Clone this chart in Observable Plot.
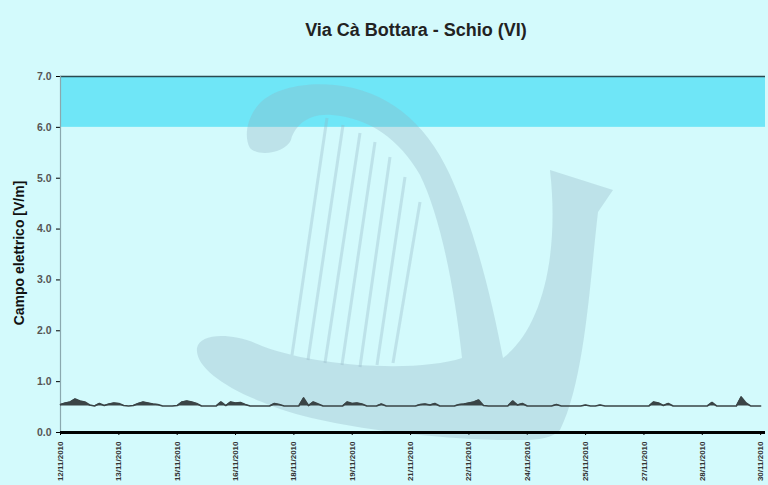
<!DOCTYPE html>
<html><head><meta charset="utf-8">
<script src="https://cdn.jsdelivr.net/npm/d3@7"></script>
<script src="https://cdn.jsdelivr.net/npm/@observablehq/plot@0.6"></script>
<style>
body{margin:0;background:#d3fafc;font-family:"Liberation Sans",Arial,sans-serif;}
#wrap{position:relative;width:768px;height:485px;overflow:hidden;}
#title{height:50px;line-height:60px;text-align:center;font-size:18px;font-weight:bold;color:#222;padding-left:64px;}
</style></head><body>
<div id="wrap"><div id="title">Via Cà Bottara - Schio (VI)</div><div id="chart"></div></div>
<script>
const title = "Via Cà Bottara - Schio (VI)";
const yLabel = "Campo elettrico [V/m]";
const startTime = "2010-11-12T00:00";
const stepHours = 3;
const values = [
0.55,0.58,0.60,0.66,0.62,0.60,0.54,0.52,0.57,0.53,
0.56,0.58,0.57,0.53,0.52,0.53,0.57,0.60,0.58,0.56,
0.55,0.52,0.52,0.52,0.53,0.60,0.62,0.60,0.57,0.52,
0.52,0.52,0.52,0.60,0.53,0.60,0.58,0.59,0.55,0.52,
0.52,0.52,0.52,0.52,0.57,0.55,0.52,0.52,0.52,0.52,
0.68,0.53,0.60,0.56,0.52,0.52,0.52,0.52,0.52,0.60,
0.57,0.58,0.56,0.52,0.52,0.52,0.56,0.52,0.52,0.52,
0.52,0.52,0.52,0.52,0.55,0.56,0.54,0.57,0.52,0.52,
0.52,0.52,0.55,0.56,0.58,0.60,0.64,0.53,0.52,0.52,
0.52,0.52,0.52,0.62,0.54,0.57,0.52,0.52,0.52,0.52,
0.52,0.52,0.55,0.52,0.52,0.52,0.52,0.52,0.54,0.52,
0.52,0.54,0.52,0.52,0.52,0.52,0.52,0.52,0.52,0.52,
0.52,0.52,0.60,0.58,0.53,0.57,0.52,0.52,0.52,0.52,
0.52,0.52,0.52,0.52,0.59,0.52,0.52,0.52,0.52,0.52,
0.70,0.58,0.52,0.52,0.52
];
const limitBand = [6, 7];
const yTicks = [0,1,2,3,4,5,6,7];
const xTickLabels = ["12/11/2010","13/11/2010","15/11/2010","16/11/2010","18/11/2010","19/11/2010","21/11/2010","22/11/2010","24/11/2010","25/11/2010","27/11/2010","28/11/2010","30/11/2010"];
const xDomain = ["2010-11-12T00:00","2010-11-30T03:00"];

const t0 = new Date(startTime);
const data = values.map((v,i)=>({t:new Date(+t0 + i*stepHours*3600e3), v}));
const xTicks = xTickLabels.map((s,i)=>new Date(+t0 + i*36*3600e3));

const chart = Plot.plot({
  width:768, height:435,
  marginTop:26, marginBottom:53, marginLeft:60, marginRight:3,
  style:{background:"transparent", fontFamily:"Liberation Sans, Arial, sans-serif"},
  x:{type:"time", domain:xDomain.map(d=>new Date(d)), ticks:xTicks, tickFormat:(d,i)=>xTickLabels[i], tickRotate:-90, tickSize:3, label:null},
  y:{domain:[0,7], ticks:yTicks, tickFormat:d3.format(".1f"), tickSize:4, label:null},
  marks:[
    Plot.rectY([limitBand], {x1:()=>new Date(xDomain[0]), x2:()=>new Date(xDomain[1]), y1:d=>d[0], y2:d=>d[1], fill:"#6fe6f7"}),
    Plot.ruleY([7], {stroke:"#2a4a50", strokeWidth:1.5}),
    Plot.ruleX([new Date(xDomain[0])], {stroke:"#8aa8ae", strokeWidth:1.2}),
    Plot.areaY(data, {x:"t", y1:0.52, y2:"v", fill:"#3a4446"}),
    Plot.lineY(data, {x:"t", y:"v", stroke:"#3a4446", strokeWidth:1.6}),
    Plot.ruleY([0], {stroke:"#000", strokeWidth:3})
  ]
});
chart.querySelectorAll('[aria-label="x-axis tick label"] text, [aria-label="y-axis tick label"] text').forEach(t=>{t.style.fontWeight="bold";});
const xl = chart.querySelector('[aria-label="x-axis tick label"]');
if (xl){ xl.setAttribute("font-size","8"); xl.setAttribute("fill","#333"); }
const yl = chart.querySelector('[aria-label="y-axis tick label"]');
if (yl){ yl.setAttribute("font-size","10.5"); yl.setAttribute("fill","#555"); }
const ns="http://www.w3.org/2000/svg";
// decorative watermark (logo), page coords shifted by the 50px title block
const wm=document.createElementNS(ns,"g");
wm.setAttribute("transform","translate(0,-50)");
wm.setAttribute("fill","rgb(144,177,192)");
wm.setAttribute("fill-opacity","0.32");
wm.setAttribute("stroke","rgb(144,177,192)");
wm.setAttribute("stroke-opacity","0.32");
const p=document.createElementNS(ns,"path");
p.setAttribute("stroke","none");
p.setAttribute("d","M250,148 C244,138 246,118 260,103 C275,88 305,82 335,85 C385,90 425,120 450,175 C475,230 492,300 503,358 C540,330 560,260 550,170 L613,190 L598,212 C590,280 585,380 560,430 C552,438 540,440 520,440 C470,441 330,432 262,402 C222,386 195,366 197,348 C200,333 232,332 262,346 C320,368 420,372 462,358 C455,290 440,215 420,175 C400,140 370,118 332,115 C306,113 294,128 291,140 C286,152 260,158 250,148 Z");
wm.appendChild(p);
const strings=[[327,118,292,355],[343,125,308,360],[360,133,325,363],[375,142,342,365],[390,157,360,367],[405,177,377,365],[420,202,393,363]];
strings.forEach(s=>{const l=document.createElementNS(ns,"line");l.setAttribute("x1",s[0]);l.setAttribute("y1",s[1]+50-50+0);l.setAttribute("x2",s[2]);l.setAttribute("y2",s[3]);l.setAttribute("stroke-width","3");l.setAttribute("fill","none");wm.appendChild(l);});
const groups=chart.querySelectorAll("g[aria-label]");
let after=null;groups.forEach(g=>{if(g.getAttribute("aria-label")==="rect")after=g;});
if(after) after.after(wm); else chart.appendChild(wm);
// y label
const lab=document.createElementNS(ns,"text");
lab.setAttribute("transform","translate(24,203) rotate(-90)");
lab.setAttribute("text-anchor","middle");
lab.setAttribute("font-size","14");
lab.setAttribute("font-weight","bold");
lab.setAttribute("fill","#111");
lab.textContent=yLabel;
chart.appendChild(lab);
document.getElementById("chart").appendChild(chart);
</script></body></html>
